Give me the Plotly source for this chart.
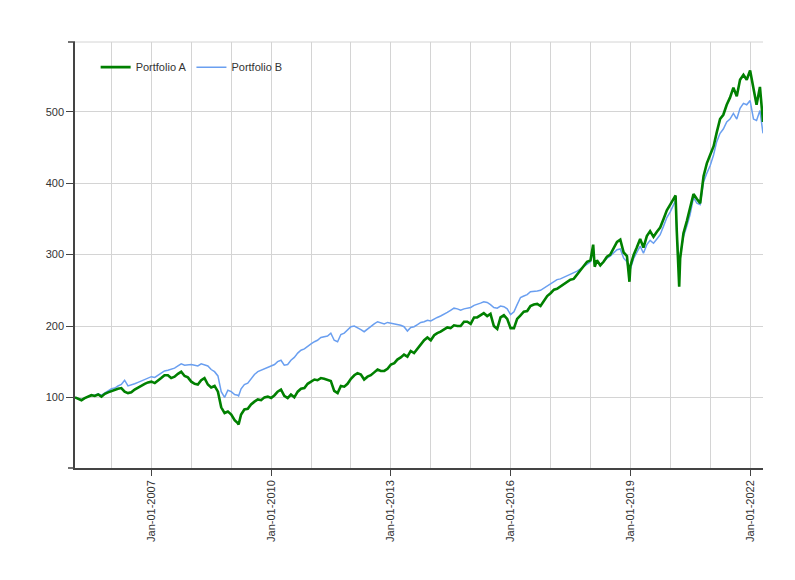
import pandas as pd
import plotly.graph_objects as go

# monthly observation dates (first of month), Feb 2005 .. Apr 2022
month_dates = [d.strftime("%Y-%m-%d") for d in pd.date_range("2005-02-01", "2022-04-01", freq="MS")]

portfolio_a_monthly = [
    100, 98, 96, 99, 101, 103, 102, 104, 101, 105, 107,
    109, 110, 112, 113, 108, 106, 107, 111, 114, 117, 119, 121,
    122, 120, 123, 127, 131, 131, 127, 129, 133, 136, 130, 128,
    122, 119, 118, 124, 127, 118, 114, 116, 108, 86, 78, 80,
    76, 68, 64, 76, 83, 84, 90, 94, 97, 96, 100, 101,
    99, 103, 108, 111, 102, 99, 104, 100, 108, 112, 113, 119,
    122, 125, 124, 127, 126, 124, 123, 109, 106, 116, 115, 119,
    126, 131, 134, 132, 125, 129, 131, 135, 139, 137, 137, 140,
    146, 148, 153, 156, 160, 157, 165, 162, 168, 175, 180, 184,
    180, 187, 190, 192, 195, 198, 197, 201, 200, 200, 206, 206,
    203, 212, 212, 215, 218, 214, 217, 200, 196, 212, 215, 210,
    197, 197, 210, 215, 220, 221, 228, 230, 231, 228, 236, 242,
    246, 251, 252, 255, 258, 262, 265, 266, 272, 278, 283, 290,
    292, 300, 292, 285, 290, 297, 300, 310, 318, 321, 303, 298,
    284, 300, 310, 322, 310, 326, 333, 325, 332, 338, 350, 362,
    370, 378, 333, 295, 330, 347, 365, 385, 378, 372, 410, 428,
    440, 452, 471, 490, 496, 510, 520, 534, 522, 545, 552, 545,
    558, 530, 510, 535,
]

portfolio_b_monthly = [
    100, 99, 97, 99, 101, 103, 103, 105, 103, 106, 109,
    112, 113, 116, 118, 124, 116, 117, 119, 121, 123, 126, 128,
    129, 128, 131, 134, 137, 138, 139, 141, 144, 147, 145, 146,
    146, 145, 144, 147, 146, 144, 139, 136, 130, 108, 100, 110,
    108, 104, 103, 112, 118, 120, 126, 132, 136, 138, 141, 143,
    144, 146, 150, 152, 145, 146, 152, 156, 162, 166, 168, 172,
    175, 178, 180, 184, 185, 186, 190, 180, 178, 188, 190, 194,
    199, 200, 197, 195, 192, 196, 199, 203, 206, 204, 203, 205,
    204, 203, 202, 201, 199, 193, 198, 199, 202, 205, 206, 208,
    207, 210, 212, 214, 216, 219, 222, 225, 224, 222, 224, 225,
    226, 229, 230, 232, 234, 233, 230, 226, 225, 228, 227, 224,
    216, 220, 230, 240, 242, 244, 248, 248, 249, 250, 253, 256,
    260, 263, 265, 266, 268, 270, 272, 274, 277, 280, 283, 287,
    290, 296, 290, 286, 290, 295, 298, 303, 307, 308, 295, 290,
    280, 295, 303, 312, 302, 314, 320, 316, 322, 328, 340, 352,
    360, 370, 330, 300, 325, 340, 356, 380, 372, 370, 402, 414,
    425, 440, 458, 470, 476, 486, 490, 498, 490, 505, 512, 510,
    516, 490, 488, 502,
]

# extra readings at turning points
extra_dates = ["2009-03-09", "2018-01-26", "2018-02-09", "2018-12-24",
               "2020-02-19", "2020-03-23", "2022-04-29"]
portfolio_a_extra = [62, 314, 283, 262, 383, 255, 486]
portfolio_b_extra = [102, 306, 286, 272, 376, 283, 470]

x_tick_start = "2007-01-01"
y_ticks = [100, 200, 300, 400, 500]

df = pd.DataFrame({
    "date": pd.to_datetime(month_dates + extra_dates),
    "A": portfolio_a_monthly + portfolio_a_extra,
    "B": portfolio_b_monthly + portfolio_b_extra,
}).sort_values("date")

FONT = "Liberation Sans, Arial, sans-serif"
fig = go.Figure()
fig.add_trace(go.Scatter(x=df["date"], y=df["B"], mode="lines", name="Portfolio B",
                         line=dict(color="#6a9ff0", width=1.5)))
fig.add_trace(go.Scatter(x=df["date"], y=df["A"], mode="lines", name="Portfolio A",
                         line=dict(color="#008000", width=2.6)))

fig.update_layout(
    width=795, height=580,
    margin=dict(l=75, r=32, t=42, b=112),
    paper_bgcolor="white", plot_bgcolor="white",
    font=dict(family=FONT, size=11, color="#333333"),
    showlegend=True,
    legend=dict(orientation="h", traceorder="reversed", x=0.03, y=0.975,
                xanchor="left", yanchor="top", bgcolor="rgba(0,0,0,0)",
                font=dict(size=11, color="#333333")),
    xaxis=dict(
        type="date", range=["2005-02-01", "2022-04-29"],
        tick0=x_tick_start, dtick="M36", tickformat="%b-%d-%Y", tickangle=-90,
        ticks="outside", ticklen=6, tickcolor="#444444",
        showline=True, linecolor="#444444", linewidth=1.5,
        showgrid=True, gridcolor="#d4d4d4", gridwidth=1,
        minor=dict(tick0="2006-01-01", dtick="M12", showgrid=True,
                   gridcolor="#d4d4d4", gridwidth=1, ticklen=0),
        zeroline=False,
    ),
    yaxis=dict(
        range=[1, 598], tickvals=y_ticks,
        ticks="outside", ticklen=7, tickcolor="#444444",
        showline=True, linecolor="#444444", linewidth=1.5,
        showgrid=True, gridcolor="#d4d4d4", gridwidth=1,
        zeroline=False,
    ),
    shapes=[
        dict(type="line", xref="paper", yref="paper", x0=0, x1=1, y0=1, y1=1,
             line=dict(color="#d4d4d4", width=1)),
        dict(type="line", xref="paper", yref="paper", x0=-7/688, x1=0, y0=1, y1=1,
             line=dict(color="#444444", width=1.5)),
        dict(type="line", xref="paper", yref="paper", x0=-7/688, x1=0, y0=0, y1=0,
             line=dict(color="#444444", width=1.5)),
    ],
)

fig.write_html("out.html")
